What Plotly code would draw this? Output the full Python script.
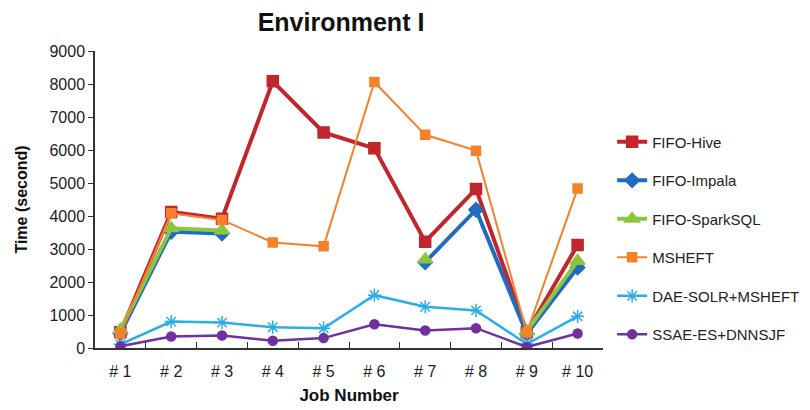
import plotly.graph_objects as go

jobs = ["# 1", "# 2", "# 3", "# 4", "# 5", "# 6", "# 7", "# 8", "# 9", "# 10"]

fifo_hive = [480, 4120, 3920, 8080, 6530, 6050, 3220, 4820, 480, 3120]
fifo_impala = [440, 3520, 3470, None, None, None, 2600, 4190, 430, 2440]
fifo_sparksql = [550, 3630, 3560, None, None, None, 2680, None, 510, 2640]
msheft = [430, 4080, 3880, 3200, 3080, 8060, 6460, 5980, 470, 4830]
dae_solr_msheft = [110, 800, 770, 630, 600, 1600, 1250, 1140, 120, 960]
ssae_es_dnnsjf = [50, 350, 380, 220, 300, 720, 530, 600, 30, 440]

series = [
    ("FIFO-Hive", fifo_hive, "#C1262C", 4, "square", 11),
    ("FIFO-Impala", fifo_impala, "#1F6CC0", 4, "diamond", 11),
    ("FIFO-SparkSQL", fifo_sparksql, "#8CC63F", 4, "triangle-up", 13),
    ("MSHEFT", msheft, "#F5822A", 2, "square", 9),
    ("DAE-SOLR+MSHEFT", dae_solr_msheft, "#2AAEE6", 2.5, "asterisk-open", 11),
    ("SSAE-ES+DNNSJF", ssae_es_dnnsjf, "#7030A0", 2.5, "circle", 9),
]

fig = go.Figure()
for name, vals, color, lw, sym, ms in series:
    fig.add_trace(go.Scatter(
        x=jobs, y=vals, name=name, mode="lines+markers",
        legendgroup=name,
        line=dict(color=color, width=lw),
        marker=dict(symbol=sym, size=ms, color=color,
                    line=dict(color=color, width=1.5)),
        connectgaps=False,
    ))

font_family = "Liberation Sans, Arial, sans-serif"
fig.update_layout(
    width=810, height=410,
    margin=dict(l=95, r=207, t=51, b=62, autoexpand=False),
    paper_bgcolor="white", plot_bgcolor="white",
    font=dict(family=font_family, color="#222222"),
    title=dict(text="<b>Environment I</b>", x=341 / 810, xanchor="center",
               y=1 - 22 / 410, yanchor="middle",
               font=dict(size=25, color="#111111")),
    legend=dict(x=1.018, xanchor="left", y=0.37, yanchor="middle",
                font=dict(size=15, color="#222222"), tracegroupgap=16,
                bgcolor="rgba(0,0,0,0)"),
    showlegend=True,
)
fig.update_xaxes(
    type="category", range=[-0.5, 9.5], automargin=False,
    showline=True, linecolor="#333333", linewidth=1.5,
    ticks="inside", tickson="boundaries", ticklen=6, tickcolor="#333333",
    tickfont=dict(size=16, color="#222222"), ticklabelstandoff=8,
    showgrid=False, zeroline=False,
    title=dict(text="<b>Job Number</b>", font=dict(size=17, color="#111111"),
               standoff=10),
)
fig.update_yaxes(
    range=[0, 9000], dtick=1000, automargin=False,
    showline=True, linecolor="#333333", linewidth=1.5,
    ticks="outside", ticklen=5, tickcolor="#333333",
    tickfont=dict(size=16, color="#222222"),
    showgrid=False, zeroline=False,
    title=dict(text="<b>Time (second)</b>", font=dict(size=16, color="#111111"),
               standoff=18),
)

fig.write_html("out.html")
